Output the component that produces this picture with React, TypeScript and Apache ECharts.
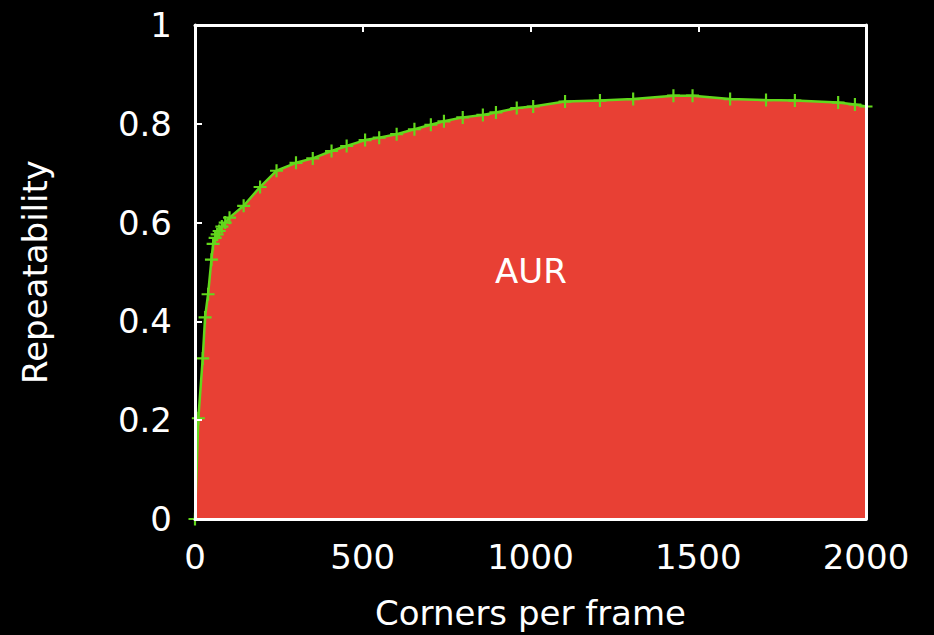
import React, { useEffect, useRef } from "react";
import * as echarts from "echarts";

const corners: number[] = [0, 10, 23, 30, 39, 49, 54, 60, 66, 72, 80, 90, 103, 145, 194, 243, 301, 351, 407, 452, 507, 549, 601, 654, 703, 742, 798, 858, 897, 959, 1008, 1103, 1207, 1306, 1426, 1483, 1595, 1702, 1788, 1917, 1967, 2000];
const repeatability: number[] = [0, 0.204, 0.325, 0.408, 0.455, 0.525, 0.557, 0.569, 0.576, 0.583, 0.592, 0.6, 0.61, 0.634, 0.672, 0.705, 0.721, 0.73, 0.745, 0.755, 0.767, 0.772, 0.779, 0.789, 0.798, 0.805, 0.813, 0.818, 0.823, 0.832, 0.835, 0.845, 0.847, 0.85, 0.857, 0.857, 0.85, 0.848, 0.847, 0.843, 0.839, 0.835];

const xTitle = "Corners per frame";
const yTitle = "Repeatability";
const areaLabel = "AUR";

const FONT = "DejaVu Sans";
const WHITE = "#ffffff";
const GREEN = "#62d81c";
const RED = "#e84034";

export default function App() {
  const ref = useRef<HTMLDivElement>(null);
  useEffect(() => {
    document.body.style.margin = "0";
    const chart = echarts.init(ref.current!, null, { renderer: "svg" });
    const labelStyle = { color: WHITE, fontFamily: FONT, fontSize: 34 };
    const plain = (v: number) => String(v);
    chart.setOption({
      animation: false,
      backgroundColor: "#000000",
      grid: { left: 195, top: 25, width: 671, height: 494 },
      xAxis: [
        {
          type: "value",
          min: 0,
          max: 2000,
          interval: 500,
          position: "bottom",
          z: 10,
          axisLine: { show: true, onZero: false, lineStyle: { color: WHITE, width: 3 } },
          axisTick: { show: false },
          splitLine: { show: false },
          axisLabel: { ...labelStyle, margin: 21, formatter: plain },
          name: xTitle,
          nameLocation: "middle",
          nameGap: 77,
          nameTextStyle: { ...labelStyle },
        },
        {
          type: "value",
          min: 0,
          max: 2000,
          interval: 500,
          position: "top",
          z: 10,
          axisLine: { show: true, onZero: false, lineStyle: { color: WHITE, width: 3 } },
          axisTick: { show: true, inside: true, length: 7, lineStyle: { color: WHITE, width: 2 } },
          splitLine: { show: false },
          axisLabel: { show: false },
        },
      ],
      yAxis: [
        {
          type: "value",
          min: 0,
          max: 1,
          interval: 0.2,
          position: "left",
          z: 10,
          axisLine: { show: true, onZero: false, lineStyle: { color: WHITE, width: 3 } },
          axisTick: { show: true, inside: true, length: 7, lineStyle: { color: WHITE, width: 2 } },
          splitLine: { show: false },
          axisLabel: { ...labelStyle, margin: 23, formatter: plain },
          name: yTitle,
          nameLocation: "middle",
          nameGap: 143,
          nameTextStyle: { ...labelStyle },
        },
        {
          type: "value",
          min: 0,
          max: 1,
          interval: 0.2,
          position: "right",
          z: 10,
          axisLine: { show: true, onZero: false, lineStyle: { color: WHITE, width: 3 } },
          axisTick: { show: false },
          splitLine: { show: false },
          axisLabel: { show: false },
        },
      ],
      series: [
        {
          type: "line",
          data: corners.map((c, i) => [c, repeatability[i]]),
          symbol: "path://M5,0h2v5h5v2h-5v5h-2v-5h-5v-2h5z",
          symbolSize: 13,
          showSymbol: true,
          itemStyle: { color: GREEN },
          lineStyle: { color: GREEN, width: 2.5 },
          areaStyle: { color: RED, opacity: 1 },
          z: 3,
        },
      ],
      graphic: [
        {
          type: "text",
          x: 531,
          y: 271,
          z: 100,
          style: {
            text: areaLabel,
            fill: WHITE,
            font: `34px "${FONT}"`,
            textAlign: "center",
            textVerticalAlign: "middle",
          },
        },
      ],
    });
    return () => chart.dispose();
  }, []);
  return (
    <div
      ref={ref}
      style={{ position: "fixed", left: 0, top: 0, width: 934, height: 635, background: "#000" }}
    />
  );
}
